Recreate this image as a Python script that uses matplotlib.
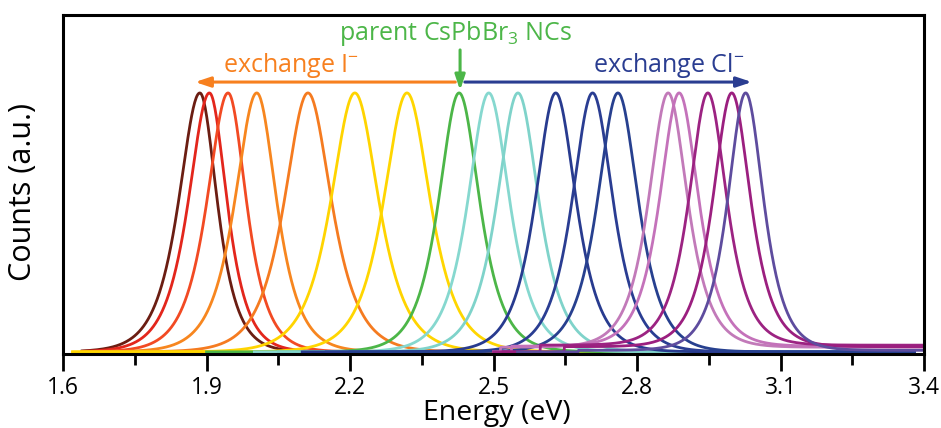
import numpy as np
import matplotlib
matplotlib.use("Agg")
import matplotlib.pyplot as plt

plt.rcParams['font.family'] = ['Open Sans', 'DejaVu Sans']

# Peak data
centers = [1.886, 1.906, 1.945, 2.005, 2.112, 2.210, 2.319, 2.428,
           2.490, 2.551, 2.630, 2.707, 2.760, 2.865, 2.888, 2.948, 2.998, 3.027]
fwhm = [0.094, 0.094, 0.096, 0.102, 0.115, 0.117, 0.114, 0.100,
        0.102, 0.102, 0.100, 0.100, 0.100, 0.095, 0.095, 0.092, 0.092, 0.088]
asym = [1.22, 1.20, 1.15, 1.10, 1.0, 1.0, 1.0, 1.0,
        1.0, 1.0, 1.0, 1.0, 1.0, 1.0, 1.0, 1.0, 1.0, 1.0]
offsets = [0.0, 0.0, 0.0, 0.0, 0.0, 0.0, 0.0, 0.0,
           0.0, 0.0, 0.0, 0.0, 0.0, 0.018, 0.022, 0.026, 0.020, 0.006]
starts = [1.64, 1.64, 1.64, 1.64, 1.64, 1.62, 1.62, 1.90,
          2.00, 2.05, 2.10, 2.15, 2.20, 2.50, 2.50, 2.50, 2.52, 2.55]
ends = [3.05, 3.05, 3.05, 3.05, 3.05, 2.82, 2.82, 3.0,
        3.30, 3.30, 3.38, 3.38, 3.38, 3.40, 3.40, 3.40, 3.40, 3.40]
colors = ['#6b1d12', '#e3261c', '#f24a23', '#f7861f', '#f57b20', '#ffd400',
          '#ffd600', '#4cb648', '#86d8cf', '#7fd3ca', '#283b8f', '#2a3d92',
          '#27408f', '#c27ab9', '#c472ba', '#9c2382', '#9b1f7f', '#5e4c9e']

xticks = [1.6, 1.9, 2.2, 2.5, 2.8, 3.1, 3.4]
xtick_labels = ['1.6', '1.9', '2.2', '2.5', '2.8', '3.1', '3.4']
minor_ticks = [1.75, 2.05, 2.35, 2.65, 2.95, 3.25]

fig = plt.figure(figsize=(9.41, 4.28), dpi=100)
ax = fig.add_axes([0.067, 0.173, 0.915, 0.792])

SECH_K = 2.0 * np.arccosh(2.0)  # FWHM / a for a sech profile

for c, w, r, off, s, e, col in zip(centers, fwhm, asym, offsets, starts, ends, colors):
    x = np.linspace(s, e, 900)
    a_tot = 2 * w / SECH_K
    a_left = a_tot * r / (1 + r)
    a_right = a_tot / (1 + r)
    a = np.where(x < c, a_left, a_right)
    y = 1.0 / np.cosh((x - c) / a)
    y = y * (1 - off) + off * (x > c - 0.35)
    ax.plot(x, y, color=col, lw=2.0, solid_joinstyle='round')

ax.set_xlim(1.6, 3.4)
ax.set_ylim(-0.008, 1.301)
ax.set_yticks([])
ax.set_xticks(xticks)
ax.set_xticklabels(xtick_labels, fontsize=16.5)
ax.set_xticks(minor_ticks, minor=True)
ax.tick_params(axis='x', which='major', direction='out', length=12, width=2, pad=4)
ax.tick_params(axis='x', which='minor', direction='out', length=8, width=2)
for sp in ax.spines.values():
    sp.set_linewidth(2.2)

ax.set_xlabel('Energy (eV)', fontsize=20.5)
ax.xaxis.label.set_va('baseline')
ax.xaxis.set_label_coords(0.504, -0.195)
ax.set_ylabel('Counts (a.u.)', fontsize=22)
ax.yaxis.set_label_coords(-0.029, 0.478)

# Annotations
ax.annotate('', xy=(1.876, 1.042), xytext=(2.42, 1.042),
            arrowprops=dict(arrowstyle='-|>,head_length=0.9,head_width=0.3',
                            color='#f7801f', lw=2.2, shrinkA=0, shrinkB=0))
ax.annotate('', xy=(3.04, 1.042), xytext=(2.44, 1.042),
            arrowprops=dict(arrowstyle='-|>,head_length=0.9,head_width=0.3',
                            color='#2a3d91', lw=2.2, shrinkA=0, shrinkB=0))
ax.annotate('', xy=(2.43, 1.01), xytext=(2.43, 1.166),
            arrowprops=dict(arrowstyle='-|>,head_length=0.9,head_width=0.3',
                            color='#4cb648', lw=2.2, shrinkA=0, shrinkB=0))
ax.text(1.935, 1.081, 'exchange I$^{\\mathregular{-}}$', color='#f7801f',
        fontsize=18, ha='left', va='baseline')
ax.text(2.708, 1.081, 'exchange Cl$^{\\mathregular{-}}$', color='#2a3d91',
        fontsize=18, ha='left', va='baseline')
ax.text(2.42, 1.205, 'parent CsPbBr$_{\\mathregular{3}}$ NCs', color='#4cb648',
        fontsize=18, ha='center', va='baseline')

fig.savefig('out.png', dpi=100)
